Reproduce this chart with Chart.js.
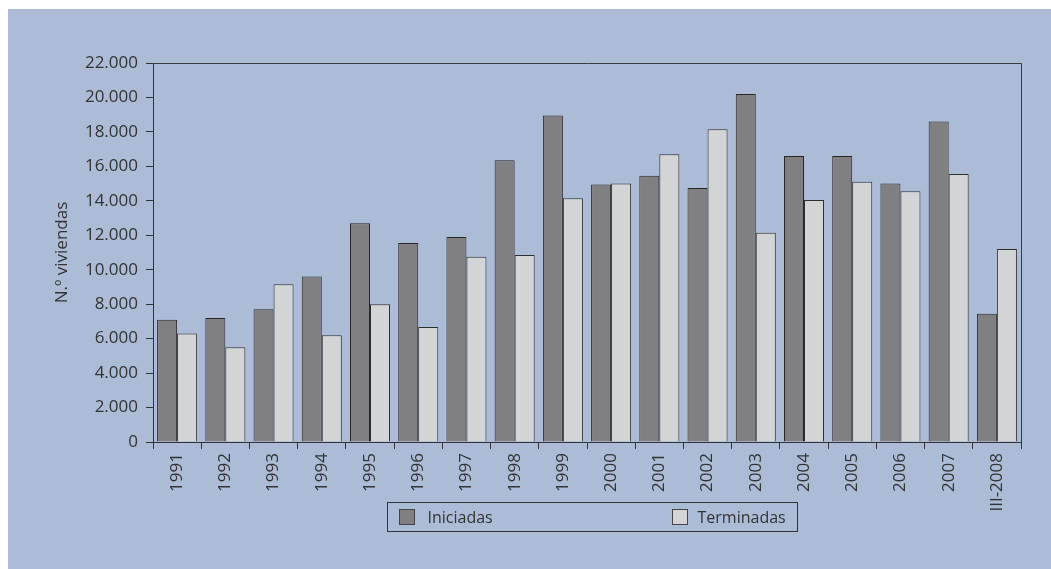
<!DOCTYPE html>
<html lang="es">
<head>
<meta charset="utf-8">
<title>Viviendas iniciadas y terminadas</title>
<script src="https://cdn.jsdelivr.net/npm/chart.js@4"></script>
<style>
  html, body { margin: 0; padding: 0; background: #ffffff; }
  #panel { position: absolute; left: 8px; top: 9px; width: 1043px; height: 560px; background: #acbcd7; }
  canvas { display: block; }
</style>
</head>
<body>
<div id="panel"><canvas id="chart" width="1043" height="560"></canvas></div>
<script>
// Periods on the horizontal axis
const periods = ['1991', '1992', '1993', '1994', '1995', '1996', '1997', '1998', '1999',
                 '2000', '2001', '2002', '2003', '2004', '2005', '2006', '2007', 'III-2008'];

// Number of dwellings started
const iniciadas = [7100, 7200, 7700, 9600, 12700, 11550, 11900, 16350, 18950,
                   14950, 15450, 14750, 20200, 16600, 16600, 15000, 18600, 7450];

// Number of dwellings completed
const terminadas = [6300, 5500, 9150, 6200, 8000, 6680, 10750, 10850, 14150,
                    15000, 16700, 18150, 12150, 14050, 15100, 14550, 15550, 11200];

// Value axis ticks
const yTicks = [0, 2000, 4000, 6000, 8000, 10000, 12000, 14000, 16000, 18000, 20000, 22000];

const seriesNames = ['Iniciadas', 'Terminadas'];
const FONT = '"Open Sans", "DejaVu Sans", sans-serif';
const INK = '#333333';

// Thousands with a dot: 22000 -> "22.000"
function fmt(v) {
  return String(v).replace(/\B(?=(\d{3})+(?!\d))/g, '.');
}

// Box around the plot area (top and right edges)
const frame = {
  id: 'frame',
  afterDatasetsDraw(chart) {
    const a = chart.chartArea, ctx = chart.ctx;
    ctx.save();
    ctx.strokeStyle = '#3a3a3a';
    ctx.lineWidth = 1;
    ctx.beginPath();
    ctx.moveTo(a.left, a.top + 0.5);
    ctx.lineTo(a.right + 0.5, a.top + 0.5);
    ctx.lineTo(a.right + 0.5, a.bottom);
    ctx.stroke();
    ctx.restore();
  }
};

// Framed legend under the axis labels
const boxedLegend = {
  id: 'boxedLegend',
  afterDraw(chart) {
    const a = chart.chartArea, ctx = chart.ctx;
    const w = 410, h = 29;
    const left = Math.round((a.left + a.right) / 2 - w / 2 + 5) + 0.5;
    const top = Math.round(a.bottom + 60) + 0.5;
    ctx.save();
    ctx.strokeStyle = '#333333';
    ctx.lineWidth = 1;
    ctx.strokeRect(left, top, w, h);
    const slots = [{ sw: 12, tx: 40 }, { sw: 285, tx: 310 }];
    chart.data.datasets.forEach((ds, i) => {
      const s = slots[i];
      ctx.fillStyle = ds.backgroundColor;
      ctx.fillRect(left + s.sw, top + 7, 15, 15);
      ctx.strokeStyle = '#444444';
      ctx.strokeRect(left + s.sw, top + 7, 15, 15);
      ctx.fillStyle = INK;
      ctx.font = '16px ' + FONT;
      ctx.textBaseline = 'middle';
      ctx.textAlign = 'left';
      ctx.fillText(ds.label, left + s.tx, top + h / 2 + 1);
    });
    ctx.restore();
  }
};

new Chart(document.getElementById('chart'), {
  type: 'bar',
  data: {
    labels: periods,
    datasets: [
      {
        label: seriesNames[0],
        data: iniciadas,
        backgroundColor: '#808083',
        borderColor: '#262626',
        borderWidth: 1
      },
      {
        label: seriesNames[1],
        data: terminadas,
        backgroundColor: '#d3d4d6',
        borderColor: '#2e2e2e',
        borderWidth: 1
      }
    ]
  },
  options: {
    responsive: false,
    animation: false,
    layout: { padding: { left: 0, top: 54, right: 30, bottom: 0 } },
    datasets: { bar: { categoryPercentage: 0.83, barPercentage: 1.0 } },
    plugins: {
      legend: { display: false },
      tooltip: { enabled: false }
    },
    scales: {
      x: {
        offset: true,
        grid: {
          offset: true,
          drawOnChartArea: false,
          drawTicks: true,
          tickLength: 7,
          color: '#333333'
        },
        border: { display: true, color: '#333333', width: 1 },
        ticks: {
          autoSkip: false,
          maxRotation: 90,
          minRotation: 90,
          padding: 4,
          color: INK,
          font: { family: FONT, size: 17 }
        },
        afterFit(scale) { scale.height = 127; }
      },
      y: {
        min: 0,
        max: 22000,
        afterBuildTicks(scale) { scale.ticks = yTicks.map(v => ({ value: v })); },
        grid: {
          drawOnChartArea: false,
          drawTicks: true,
          tickLength: 7,
          color: '#333333'
        },
        border: { display: true, color: '#333333', width: 1 },
        ticks: {
          padding: 8,
          color: INK,
          font: { family: FONT, size: 17 },
          callback: v => fmt(v)
        },
        title: {
          display: true,
          text: 'N.º viviendas',
          color: INK,
          font: { family: FONT, size: 17 },
          padding: { top: 44, bottom: 0 }
        },
        afterFit(scale) { scale.width = 145; }
      }
    }
  },
  plugins: [frame, boxedLegend]
});
</script>
</body>
</html>
